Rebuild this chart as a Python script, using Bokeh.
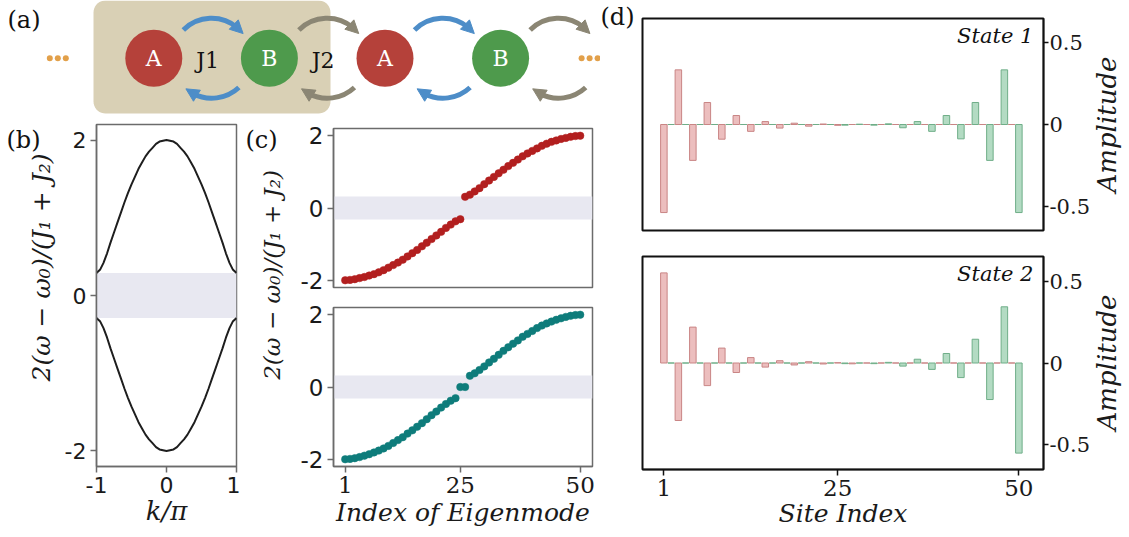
import numpy as np
from bokeh.plotting import figure
from bokeh.layouts import row, column
from bokeh.models import (Range1d, FixedTicker, BoxAnnotation, Label, Arrow,
                          NormalHead, ColumnDataSource)
from bokeh.core.properties import value
from bokeh.embed import file_html
from bokeh.resources import INLINE

# ---------------- panel (a): chain schematic ----------------
chain_sites = ["A", "B", "A", "B"]
chain_couplings = ["J1", "J2", "J1", "J2"]
coupling_labels = ["J1", "J2"]

# ---------------- panel (b): bulk bands ----------------
k_over_pi = [-1.0, -0.95, -0.9, -0.85, -0.8, -0.75, -0.7, -0.65, -0.6, -0.55, -0.5,
             -0.45, -0.4, -0.35, -0.3, -0.25, -0.2, -0.15, -0.1, -0.05, 0.0,
             0.05, 0.1, 0.15, 0.2, 0.25, 0.3, 0.35, 0.4, 0.45, 0.5,
             0.55, 0.6, 0.65, 0.7, 0.75, 0.8, 0.85, 0.9, 0.95, 1.0]
band_upper = [0.29, 0.33, 0.42, 0.54, 0.68, 0.81, 0.94, 1.07, 1.20, 1.32, 1.43,
              1.53, 1.63, 1.71, 1.79, 1.85, 1.90, 1.95, 1.98, 1.99, 2.00,
              1.99, 1.98, 1.95, 1.90, 1.85, 1.79, 1.71, 1.63, 1.53, 1.43,
              1.32, 1.20, 1.07, 0.94, 0.81, 0.68, 0.54, 0.42, 0.33, 0.29]
band_lower = [-0.29, -0.33, -0.42, -0.54, -0.68, -0.81, -0.94, -1.07, -1.20, -1.32, -1.43,
              -1.53, -1.63, -1.71, -1.79, -1.85, -1.90, -1.95, -1.98, -1.99, -2.00,
              -1.99, -1.98, -1.95, -1.90, -1.85, -1.79, -1.71, -1.63, -1.53, -1.43,
              -1.32, -1.20, -1.07, -0.94, -0.81, -0.68, -0.54, -0.42, -0.33, -0.29]
gap_b = 0.29

# ---------------- panel (c): eigen-spectra ----------------
mode_index = list(range(1, 51))
eig_trivial = [-2.00, -1.99, -1.97, -1.94, -1.91, -1.87, -1.83, -1.78, -1.72, -1.65,
               -1.58, -1.51, -1.43, -1.34, -1.25, -1.16, -1.06, -0.96, -0.86, -0.76,
               -0.66, -0.55, -0.46, -0.37, -0.31,
               0.31, 0.37, 0.46, 0.55, 0.66, 0.76, 0.86, 0.96, 1.06, 1.16,
               1.25, 1.34, 1.43, 1.51, 1.58, 1.65, 1.72, 1.78, 1.83, 1.87,
               1.91, 1.94, 1.97, 1.99, 2.00]
eig_topological = [-2.00, -1.99, -1.97, -1.94, -1.90, -1.86, -1.81, -1.76, -1.70, -1.63,
                   -1.55, -1.47, -1.39, -1.29, -1.20, -1.10, -1.00, -0.89, -0.78, -0.68,
                   -0.57, -0.47, -0.38, -0.31,
                   0.00, 0.00,
                   0.31, 0.38, 0.47, 0.57, 0.68, 0.78, 0.89, 1.00, 1.10, 1.20,
                   1.29, 1.39, 1.47, 1.55, 1.63, 1.70, 1.76, 1.81, 1.86, 1.90,
                   1.94, 1.97, 1.99, 2.00]
gap_c = 0.32

# ---------------- panel (d): edge-state amplitudes ----------------
site_index = list(range(1, 51))
state1_amp = [-0.54, 0.0, 0.335, 0.0, -0.22, 0.0, 0.135, 0.0, -0.09, 0.0,
              0.055, 0.0, -0.042, 0.0, 0.018, 0.0, -0.022, 0.0, 0.008, 0.0,
              -0.01, 0.0, 0.003, 0.0, -0.005, -0.004, 0.0, 0.002, 0.0, -0.004,
              0.0, 0.004, 0.0, -0.02, 0.0, 0.018, 0.0, -0.042, 0.0, 0.055,
              0.0, -0.088, 0.0, 0.135, 0.0, -0.22, 0.0, 0.335, 0.0, -0.54]
state2_amp = [0.55, 0.0, -0.351, 0.0, 0.219, 0.0, -0.138, 0.0, 0.091, 0.0,
              -0.058, 0.0, 0.033, 0.0, -0.025, 0.0, 0.014, 0.0, -0.012, 0.0,
              0.008, 0.0, -0.006, 0.0, 0.002, -0.004, -0.005, 0.0, 0.0, -0.004,
              0.0, 0.004, 0.0, -0.019, 0.0, 0.023, 0.0, -0.039, 0.0, 0.058,
              0.0, -0.089, 0.0, 0.145, 0.0, -0.223, 0.0, 0.343, 0.0, -0.55]
state_names = ["State 1", "State 2"]

# ---------------- styles ----------------
SERIF = "DejaVu Serif"
SANS = "DejaVu Sans"
BAND = "#e8e8f1"
FRAME_GRAY = "#6b6b6b"
YLABEL = "2(ω − ω₀)/(J₁ + J₂)"


def base_fig(w, h, xr, yr, **kw):
    p = figure(width=w, height=h, x_range=Range1d(*xr), y_range=Range1d(*yr),
               output_backend="svg", toolbar_location=None, **kw)
    p.grid.visible = False
    p.background_fill_color = "white"
    p.border_fill_color = "white"
    return p


def strip_fig(w, h):
    p = base_fig(w, h, (0, w), (0, h), min_border=0,
                 x_axis_location=None, y_axis_location=None)
    p.outline_line_color = None
    return p


def style_axis(ax, font, size, color):
    ax.axis_line_color = color
    ax.axis_line_width = 1.5
    ax.major_tick_line_color = color
    ax.major_tick_line_width = 1.5
    ax.major_tick_out = 6
    ax.major_tick_in = 0
    ax.minor_tick_line_color = None
    ax.major_label_text_font = font
    ax.major_label_text_font_size = size
    ax.major_label_text_color = "#1a1a1a"
    ax.major_label_standoff = 4
    ax.axis_label_text_font = SERIF
    ax.axis_label_text_font_style = "italic"
    ax.axis_label_text_color = "#1a1a1a"


def tag(p, x, y, text, size="24px"):
    p.add_layout(Label(x=x, y=y, text=text, text_baseline="top", text_align="left",
                       text_font=SERIF, text_font_size=size, text_color="#111111"))


def vlabel(p, x, y, text, size, align="center"):
    p.add_layout(Label(x=x, y=y, text=text, angle=np.pi / 2, text_align=align,
                       text_baseline="middle", text_font=SERIF, text_font_style="italic",
                       text_font_size=size, text_color="#1a1a1a"))


# ================= panel (a) =================
pa = base_fig(600, 115, (0, 600), (0, 115), min_border=0,
              x_axis_location=None, y_axis_location=None)
pa.outline_line_color = None

site_x0, site_dx, yc = 153.3, 115.6, 57.3
site_x = [site_x0 + i * site_dx for i in range(len(chain_sites))]
mids = [x + site_dx / 2 for x in site_x]
site_color = {"A": "#b5413a", "B": "#4e9a4c"}
coup_color = {"J1": "#4d8dc8", "J2": "#8b8674"}


def rounded_rect(l, r, b, t, rad, n=10):
    xs, ys = [], []
    for cx, cy, a0, a1 in ((r - rad, t - rad, 0, 90), (l + rad, t - rad, 90, 180),
                           (l + rad, b + rad, 180, 270), (r - rad, b + rad, 270, 360)):
        a = np.radians(np.linspace(a0, a1, n))
        xs += list(cx + rad * np.cos(a))
        ys += list(cy + rad * np.sin(a))
    return xs, ys


rx, ry = rounded_rect(93, 330, 2, 115, 12)
pa.patch(rx, ry, fill_color="#d9d0b5", line_color=None)

arc_r = 40
acol = [coup_color[c] for c in chain_couplings]
pa.arc(x=mids, y=[yc] * len(mids), radius=arc_r, start_angle=np.radians(50),
       end_angle=np.radians(135), line_color=acol, line_width=5)
pa.arc(x=mids, y=[yc] * len(mids), radius=arc_r, start_angle=np.radians(-118),
       end_angle=np.radians(-47), line_color=acol, line_width=5)
for name, col in coup_color.items():
    x0, y0, x1, y1 = [], [], [], []
    for i, c in enumerate(chain_couplings):
        if c != name:
            continue
        for a_s, a_e in ((54, 38), (-114, -130)):
            x0.append(mids[i] + arc_r * np.cos(np.radians(a_s)))
            y0.append(yc + arc_r * np.sin(np.radians(a_s)))
            x1.append(mids[i] + arc_r * np.cos(np.radians(a_e)))
            y1.append(yc + arc_r * np.sin(np.radians(a_e)))
    src = ColumnDataSource(dict(x0=x0, y0=y0, x1=x1, y1=y1))
    pa.add_layout(Arrow(end=NormalHead(size=13, fill_color=col, line_color=col, line_width=1),
                        x_start="x0", y_start="y0", x_end="x1", y_end="y1",
                        source=src, line_color=col, line_width=4))

pa.ellipse(x=site_x, y=[yc] * len(site_x), width=57, height=57,
           fill_color=[site_color[s] for s in chain_sites], line_color=None)
pa.text(x=site_x, y=[yc] * len(site_x), text=chain_sites, text_align="center",
        text_baseline="middle", text_color="white", text_font=value(SERIF),
        text_font_size="22px")
pa.text(x=[m - 4 for m in mids[:len(coupling_labels)]], y=[yc - 2] * len(coupling_labels),
        text=coupling_labels, text_align="center", text_baseline="middle",
        text_color="#111111", text_font=value(SERIF), text_font_size="22px")
dot_off = [-8, 0, 8]
pa.scatter(x=[site_x[0] - 96 + d for d in dot_off] + [site_x[-1] + 89 + d for d in dot_off],
           y=[yc] * 6, size=6, color="#e2a04a", line_color=None)
pa.text(x=[7], y=[110], text=["(a)"], text_baseline="top", text_color="#111111",
        text_font=value(SERIF), text_font_size="24px")

# ================= panel (b) =================
pbl = strip_fig(60, 422)
tag(pbl, 6, 420, "(b)")
vlabel(pbl, 41, 105, YLABEL, "25px", align="left")

pb = base_fig(180, 422, (-1, 1), (-2.2, 2.2), min_border_left=36, min_border_right=4,
              min_border_top=9, min_border_bottom=71)
pb.outline_line_color = FRAME_GRAY
pb.outline_line_width = 1.5
pb.add_layout(BoxAnnotation(bottom=-gap_b, top=gap_b, fill_color=BAND, fill_alpha=1.0,
                            line_color=None, level="underlay"))
pb.line(k_over_pi, band_upper, line_color="#1e1e1e", line_width=2)
pb.line(k_over_pi, band_lower, line_color="#1e1e1e", line_width=2)
pb.xaxis.ticker = FixedTicker(ticks=[-1, 0, 1])
pb.xaxis.major_label_overrides = {-1: "-1", 0: "0", 1: "1"}
pb.yaxis.ticker = FixedTicker(ticks=[-2, 0, 2])
pb.yaxis.major_label_overrides = {-2: "-2", 0: "0", 2: "2"}
for ax in (pb.xaxis[0], pb.yaxis[0]):
    style_axis(ax, SANS, "22px", FRAME_GRAY)
pb.xaxis.axis_label = "k/π"
pb.xaxis.axis_label_text_font_size = "26px"
pb.xaxis.axis_label_standoff = 0

# ================= panel (c) =================
pcl = strip_fig(50, 422)
tag(pcl, 5, 420, "(c)")
vlabel(pcl, 31, 107, YLABEL, "23px", align="left")


def eig_fig(vals, color, h, bt, bb, show_x):
    p = base_fig(310, h, (-1.44, 52.56), (-2.2, 2.2), min_border_left=43,
                 min_border_right=8, min_border_top=bt, min_border_bottom=bb,
                 x_axis_location="below" if show_x else None)
    p.outline_line_color = FRAME_GRAY
    p.outline_line_width = 1.5
    p.add_layout(BoxAnnotation(bottom=-gap_c, top=gap_c, fill_color=BAND, fill_alpha=1.0,
                               line_color=None, level="underlay"))
    p.scatter(mode_index, vals, size=7.5, fill_color=color, line_color=color, line_width=0.5)
    p.yaxis.ticker = FixedTicker(ticks=[-2, 0, 2])
    p.yaxis.major_label_overrides = {-2: "-2", 0: "0", 2: "2"}
    style_axis(p.yaxis[0], SANS, "23px", FRAME_GRAY)
    if show_x:
        p.xaxis.ticker = FixedTicker(ticks=[1, 25, 50])
        style_axis(p.xaxis[0], SERIF, "23px", FRAME_GRAY)
        p.xaxis.axis_label = "Index of Eigenmode"
        p.xaxis.axis_label_text_font_size = "25px"
        p.xaxis.axis_label_standoff = 2
    return p


pc1 = eig_fig(eig_trivial, "#b21f1f", 182, 13, 10, False)
pc2 = eig_fig(eig_topological, "#0e7c7b", 240, 10, 71, True)

# ================= panel (d) =================
pdl = strip_fig(40, 537)
tag(pdl, 0, 535, "(d)")

sublattice = ["A" if s % 2 == 1 else "B" for s in site_index]
bar_fill = {"A": "#ecbebe", "B": "#b3dbc3"}
bar_edge = {"A": "#c98585", "B": "#6fae88"}


def amp_fig(amps, name, h, bt, bb, show_x, label_y):
    p = base_fig(453, h, (-1.95, 53.4), (-0.65, 0.65), min_border_left=2,
                 min_border_right=50, min_border_top=bt, min_border_bottom=bb,
                 x_axis_location="below" if show_x else None, y_axis_location="right")
    p.outline_line_color = "#111111"
    p.outline_line_width = 2
    src = ColumnDataSource(dict(x=site_index, amp=amps,
                                fill=[bar_fill[s] for s in sublattice],
                                edge=[bar_edge[s] for s in sublattice]))
    p.vbar(x="x", top="amp", bottom=0, width=0.9, fill_color="fill", line_color="edge",
           line_width=1, source=src)
    p.yaxis.ticker = FixedTicker(ticks=[-0.5, 0, 0.5])
    p.yaxis.major_label_overrides = {-0.5: "-0.5", 0: "0", 0.5: "0.5"}
    ya = p.yaxis[0]
    style_axis(ya, SERIF, "21px", "#111111")
    ya.major_tick_out = 5
    ya.major_label_standoff = 1
    if show_x:
        p.xaxis.ticker = FixedTicker(ticks=[1, 25, 50])
        style_axis(p.xaxis[0], SERIF, "23px", "#111111")
        p.xaxis.axis_label = "Site Index"
        p.xaxis.axis_label_text_font_size = "25px"
        p.xaxis.axis_label_standoff = 0
    p.add_layout(Label(x=52.0, y=label_y, text=name, text_align="right",
                       text_baseline="middle", text_font=SERIF, text_font_style="italic",
                       text_font_size="21px", text_color="#111111"))
    return p


pd1 = amp_fig(state1_amp, state_names[0], 243, 18, 13, False, 0.54)
pd2 = amp_fig(state2_amp, state_names[1], 294, 13, 68, True, 0.546)

pamp = strip_fig(36, 537)
vlabel(pamp, 13, 413, "Amplitude", "26px")
vlabel(pamp, 13, 175, "Amplitude", "26px")

left = column(pa, row(pbl, pb, pcl, column(pc1, pc2)))
right = row(pdl, column(pd1, pd2), pamp)
layout = row(left, right)

open("out.html", "w").write(file_html(layout, INLINE))
